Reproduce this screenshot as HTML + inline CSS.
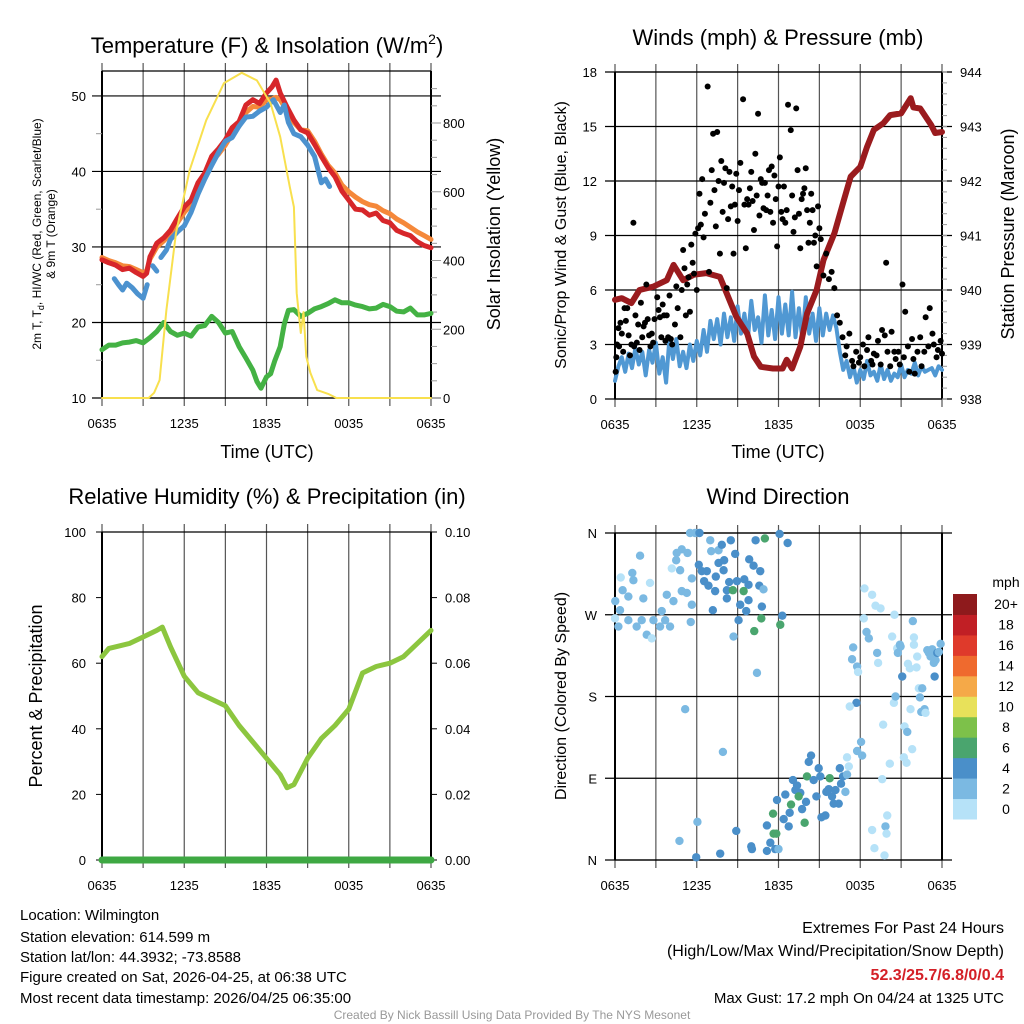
<!DOCTYPE html>
<html><head><meta charset="utf-8"><title>Mesonet Station Plots</title>
<style>
html,body{margin:0;padding:0;background:#fff;}
svg{display:block;font-family:"Liberation Sans",Arial,sans-serif;}
</style></head>
<body>
<svg id="chart" xmlns="http://www.w3.org/2000/svg" width="1024" height="1024" viewBox="0 0 1024 1024">
<rect x="0" y="0" width="1024" height="1024" fill="#fff"/>
<g id="layer"></g>
<text x="267" y="53" font-size="22" text-anchor="middle">Temperature (F) &amp; Insolation (W/m<tspan font-size="14" dy="-9">2</tspan><tspan dy="9">)</tspan></text>
<text x="778" y="45" font-size="22" text-anchor="middle">Winds (mph) &amp; Pressure (mb)</text>
<text x="267" y="504" font-size="22" text-anchor="middle">Relative Humidity (%) &amp; Precipitation (in)</text>
<text x="778" y="504" font-size="22" text-anchor="middle">Wind Direction</text>
<text x="267" y="458" font-size="18" text-anchor="middle">Time (UTC)</text>
<text x="778" y="458" font-size="18" text-anchor="middle">Time (UTC)</text>
<text transform="translate(41,234) rotate(-90)" font-size="12" text-anchor="middle">2m T, T<tspan font-size="9" dy="3">d</tspan><tspan dy="-3">, HI/WC (Red, Green, Scarlet/Blue)</tspan></text>
<text transform="translate(55,234) rotate(-90)" font-size="12" text-anchor="middle">&amp; 9m T (Orange)</text>
<text transform="translate(500,234) rotate(-90)" font-size="18" text-anchor="middle">Solar Insolation (Yellow)</text>
<text transform="translate(566,235) rotate(-90)" font-size="16" text-anchor="middle">Sonic/Prop Wind &amp; Gust (Blue, Black)</text>
<text transform="translate(1014,234) rotate(-90)" font-size="18" text-anchor="middle">Station Pressure (Maroon)</text>
<text transform="translate(42,696) rotate(-90)" font-size="18" text-anchor="middle">Percent &amp; Precipitation</text>
<text transform="translate(566,696) rotate(-90)" font-size="16" text-anchor="middle">Direction (Colored By Speed)</text>
<text x="1006" y="587" font-size="14" text-anchor="middle">mph</text>
<g font-size="15">
<text x="20" y="920">Location: Wilmington</text>
<text x="20" y="942">Station elevation: 614.599 m</text>
<text x="20" y="962">Station lat/lon: 44.3932; -73.8588</text>
<text x="20" y="982">Figure created on Sat, 2026-04-25, at 06:38 UTC</text>
<text x="20" y="1003">Most recent data timestamp: 2026/04/25 06:35:00</text>
</g>
<g font-size="16" text-anchor="end">
<text x="1004" y="933">Extremes For Past 24 Hours</text>
<text x="1004" y="956">(High/Low/Max Wind/Precipitation/Snow Depth)</text>
<text x="1004" y="980" fill="#d42027" font-weight="bold">52.3/25.7/6.8/0/0.4</text>
<text x="1004" y="1003" font-size="15">Max Gust: 17.2 mph On 04/24 at 1325 UTC</text>
</g>
<text x="512" y="1019" font-size="12" fill="#999" text-anchor="middle">Created By Nick Bassill Using Data Provided By The NYS Mesonet</text>
</svg>
<script>
// ---------- data ----------
var timeTickLabels = ["0635","1235","1835","0035","0635"];
var tempTicks = [10,20,30,40,50];
var solarTicks = [0,200,400,600,800];
var windTicks = [0,3,6,9,12,15,18];
var pressTicks = [938,939,940,941,942,943,944];
var rhTicks = [0,20,40,60,80,100];
var precipTicks = ["0.00","0.02","0.04","0.06","0.08","0.10"];
var dirTicks = [0,90,180,270,360];
var dirTickLabels = ["N","E","S","W","N"];
var speedBins = ["0","2","4","6","8","10","12","14","16","18","20+"];
var speedColors = ["#b6e2f8","#7bb9e2","#4a8fc9","#4aa56e","#7dc14a","#e8e15a","#f5a948","#ef6a2e","#df3a2b","#c11f25","#8e1a1c"];

var redTime = [0,0.5,1,1.5,2,2.5,3,3.25,3.5,4,4.5,5,5.5,6,6.5,7,7.5,8,8.5,9,9.5,10,10.5,11,11.5,12,12.4,12.7,13,13.5,14,14.5,15,15.5,16,16.5,17,17.5,18,18.5,19,19.5,20,20.5,21,21.5,22,22.5,23,23.5,24];
var redTemp = [28.3,27.9,27.6,27.0,27.2,26.6,26.1,26.5,28.7,30.5,31.2,32.2,33.8,35.3,36.2,38.5,39.8,42.0,43.0,44.2,45.8,46.6,48.8,49.5,49.0,50.4,51.2,52.1,50.4,48.5,46.8,45.5,45.1,43.6,42.0,40.5,39.3,37.4,36.2,35.0,34.9,34.2,34.5,33.5,33.2,32.2,31.8,31.5,30.7,30.2,29.9];
var orangeTemp = [28.6,28.2,27.9,27.5,27.4,27.0,26.6,26.8,28.4,30.0,30.8,31.8,33.2,34.6,35.6,37.8,39.2,41.3,42.3,43.5,45.0,46.0,47.8,48.6,48.5,49.5,49.6,49.8,49.5,48.0,46.5,45.5,45.4,44.0,42.3,40.8,39.8,38.2,37.3,36.6,36.0,35.6,35.4,34.8,34.4,33.7,33.2,32.6,32.0,31.5,31.0];
var blueTime = [0.9,1.2,1.5,1.8,2.2,2.6,3.0,3.3,null,3.7,4.0,null,4.3,4.7,5,5.5,6,6.5,7,7.5,8,8.5,9,9.5,10,10.5,11,11.5,12,12.5,13,13.3,13.6,14,14.5,15,15.5,16,16.3,16.6];
var blueTemp = [25.8,25.0,24.3,25.2,24.6,23.8,23.2,25.0,null,27.5,26.8,null,28.6,29.6,31.0,32.0,32.8,34.6,37.0,39.0,40.8,42.5,44.0,44.5,46.0,47.2,47.3,48.0,48.5,49.5,47.8,48.8,46.5,45.0,44.6,43.5,42.0,38.5,39.0,38.0];
var dewTime = [0,0.5,1,1.5,2,2.5,3,3.5,4,4.5,5,5.5,6,6.5,7,7.5,8,8.5,9,9.5,10,10.5,11,11.3,11.6,12,12.3,12.6,13,13.3,13.6,14,14.5,15,15.5,16,16.5,17,17.5,18,18.5,19,19.5,20,20.5,21,21.5,22,22.5,23,23.5,24];
var dewTemp = [16.4,17.0,17.0,17.3,17.4,17.6,17.3,18.0,18.8,20.0,18.8,18.3,18.6,18.2,19.4,19.6,20.8,20.0,18.6,18.8,16.8,15.3,13.7,12.2,11.3,12.8,13.2,14.9,16.8,19.8,21.6,21.7,20.8,21.2,21.8,22.1,22.5,23.0,22.6,22.6,22.3,22.1,21.8,21.9,22.4,22.1,21.5,21.4,21.9,21.0,21.0,21.2];
var solarTime = [0,3.4,3.8,4.2,4.7,5.4,6.4,7.6,8.9,10.2,11.3,12.3,13,13.7,14,14.2,14.5,14.7,14.9,15.2,15.7,16.5,17.1,24];
var solarValue = [0,0,15,52,256,480,663,808,916,946,924,857,760,614,556,305,189,250,120,73,23,12,0,0];

var sonicWind = [1.0,1.8,2.3,1.5,2.5,1.7,2.8,1.9,2.6,1.3,2.7,2.0,3.1,1.4,2.3,0.9,3.4,
2.2,3.3,1.8,2.6,1.7,3.0,2.1,3.2,2.4,3.8,2.6,4.3,3.3,4.4,3.0,4.7,
3.4,4.5,3.2,5.1,3.6,4.7,3.3,5.4,3.8,4.5,3.1,5.7,3.5,4.9,3.3,5.6,
3.6,5.2,3.5,5.9,3.4,5.0,3.3,5.6,3.6,4.7,3.2,5.0,3.5,4.7,3.8,4.6,
3.9,2.6,1.6,2.1,1.2,1.8,0.9,1.6,1.1,2.1,1.3,1.5,1.0,1.9,1.1,1.6,
1.0,1.4,1.2,1.9,1.2,1.6,1.4,2.0,1.3,1.8,1.5,1.6,1.7,1.3,1.8,1.6];
var gustTime = [0.05,0.1,0.15,0.25,0.3,0.4,0.5,0.6,0.7,0.8,0.9,1.0,1.1,1.2,1.35,1.4,1.5,1.6,1.7,1.8,1.9,2.0,2.1,2.2,2.3,2.4,2.5,2.6,2.7,2.8,2.9,
3.1,3.2,3.3,3.4,3.5,3.6,3.7,3.8,3.9,4.0,4.1,4.2,4.4,4.5,4.6,4.8,4.9,5.0,5.1,5.2,5.3,5.4,5.5,5.6,5.7,5.8,5.9,6.0,
6.1,6.2,6.3,6.4,6.5,6.6,6.8,6.9,7.0,7.1,7.2,7.3,7.4,7.5,7.6,7.7,7.8,7.9,8.0,8.1,8.2,8.3,8.4,8.5,8.6,8.7,8.8,8.9,9.0,9.1,9.2,9.4,9.5,9.6,9.7,9.8,9.9,10.0,10.1,10.2,10.3,10.4,10.5,10.6,10.7,10.8,10.9,11.0,11.1,11.2,11.3,11.4,11.5,11.6,11.7,11.8,11.9,12.0,12.1,12.2,12.3,12.4,12.5,12.6,12.7,12.9,13.0,13.1,13.2,13.3,13.4,13.5,13.6,13.7,13.8,13.9,14.0,14.1,14.2,14.3,14.4,14.5,14.6,14.7,14.8,14.9,15.0,
15.1,15.3,15.5,15.7,15.9,16.1,16.3,16.5,16.7,16.9,17.0,17.2,17.4,17.5,17.7,17.9,18.0,18.2,18.3,18.5,18.6,18.8,18.9,19.0,19.2,19.3,19.5,19.6,19.8,19.9,20.0,20.2,20.3,20.5,20.6,20.8,20.9,21.1,21.2,21.3,21.5,21.6,21.8,21.9,22.0,22.2,22.4,22.5,22.7,22.8,23.0,23.1,23.3,23.4,23.6,23.7,23.9,24.0];
var gustValue = [1.5,2.3,3.0,3.9,2.9,4.2,3.6,2.6,5.0,4.3,5.0,3.5,2.4,3.0,9.7,2.9,4.6,3.1,4.1,2.7,5.3,3.4,4.0,4.2,6.3,4.4,3.5,2.9,3.6,3.1,4.4,
5.6,4.9,4.5,3.4,5.2,4.6,3.2,4.6,3.4,5.7,3.3,3.0,4.1,6.2,5.0,3.4,6.0,8.2,7.2,4.6,6.3,6.7,4.8,8.5,7.5,6.9,9.1,6.0,
9.4,11.3,9.6,12.1,8.9,10.2,17.2,7.0,10.8,12.6,14.6,11.5,9.5,14.7,12.0,8.0,13.1,10.3,11.9,12.7,6.1,9.9,12.5,10.6,11.7,8.0,10.7,12.4,9.8,11.5,13.0,16.5,10.7,8.3,11.0,10.7,11.6,12.5,10.9,9.3,13.5,11.2,15.7,10.1,12.1,11.9,10.5,11.9,10.4,11.2,12.6,10.3,12.8,9.7,12.3,11.0,8.4,11.7,13.3,10.3,9.9,11.7,9.7,10.4,16.2,14.8,11.2,9.2,10.0,16.0,12.6,10.2,8.3,11.0,11.3,11.6,12.7,10.4,8.6,9.7,11.3,10.4,8.6,9.0,7.3,10.6,9.4,
8.8,6.8,8.0,6.6,7.0,6.1,4.6,4.2,3.4,2.4,2.9,3.6,2.1,1.8,2.6,2.0,2.3,3.0,1.8,2.7,3.4,2.1,1.9,2.5,2.4,3.2,1.9,3.8,3.5,7.5,2.6,1.8,3.7,2.6,2.2,2.6,1.9,6.3,2.3,4.8,2.9,1.5,3.3,2.2,1.4,2.6,3.4,1.8,2.6,4.5,2.9,5.0,3.6,3.0,2.3,2.7,3.2,2.5];
var pressTime = [0,0.5,1.2,1.8,2.8,3.8,4.3,5,5.8,6.7,7.7,8.2,8.9,9.7,10.2,10.7,11.6,12.3,12.6,13,13.6,14.1,14.8,15.3,16.1,16.8,17.3,18,18.5,19,19.7,20.2,21,21.7,21.9,22.4,23.2,23.5,24];
var pressValue = [939.82,939.85,939.76,940.0,940.06,940.18,940.46,940.18,940.28,940.31,940.24,939.94,939.51,939.2,938.78,938.59,938.56,938.56,938.72,938.56,938.96,939.57,940.0,940.55,941.04,941.65,942.08,942.26,942.63,942.94,943.06,943.21,943.24,943.52,943.35,943.33,943.03,942.88,942.9];

var rhTime = [0,0.5,1,2,3,4,4.4,5,6,7,8,9,10,11,12,13,13.5,14,15,16,17,18,19,20,21,22,23,24];
var rhValue = [62,64.5,65,66,68,70,71,65,56,51,49,47,41,36,31,26,22,23,31,37,41,46,57,59,60,62,66,70];
var precipTime = [0,24];
var precipValue = [0,0];

var dirTime = [0.42,1.27,1.35,1.84,2.57,0.56,0.98,2.08,0.02,0.37,0,0.25,0.98,1.59,1.96,2.33,2.7,2.82,3.31,3.68,4.04,3.43,3.8,4.29,4.9,5.27,4.53,4.9,5.32,4.49,4.17,4.78,5.64,5.56,5.64,5.51,5.88,5.15,4.73,6.05,5.96,
6.2,6.99,7.06,7.6,7.84,8.5,8.82,6.15,6.37,6.74,6.54,6.86,7.4,7.6,8.01,7.97,8.38,8.95,9.49,9.8,7.35,8.21,8.21,7.18,8.65,9.44,9.19,9.63,9.8,10.59,10.9,10.78,9.07,8.7,9.85,10.17,10.66,10.32,11.0,12.08,12.67,10.74,10.22,12.13,12.28,10.42,7.92,8.9,7.72,10.0,10.05,
11.15,11.64,11.84,11.4,11.15,11.76,12.0,11.6,12.38,12.75,11.89,12.5,12.92,12.82,13.24,13.6,13.48,13.06,13.36,13.73,14.02,13.92,14.09,14.22,14.39,14.58,14.78,14.95,15.07,15.15,15.44,15.51,15.69,15.76,15.93,16.05,16.42,16.18,16.5,16.59,16.74,16.91,17.03,17.16,17.03,17.77,18.14,18.06,17.72,17.23,17.48,17.4,17.77,17.84,18.31,18.26,18.46,18.63,18.87,19.12,19.49,19.24,19.31,19.68,19.61,19.98,19.85,19.93,18.87,19.04,19.78,20.17,20.47,20.59,20.51,20.34,20.71,20.91,20.76,20.96,21.08,21.25,21.45,21.69,21.81,21.2,21.4,21.86,21.94,21.94,21.5,21.64,22.18,22.13,22.3,22.55,22.38,22.48,22.72,22.79,22.92,23.04,23.28,23.16,23.4,23.53,23.65,23.77,23.9,23.46];
var dirValue = [311,316,308,335,305,297,290,288,285,275,266,257,264,257,264,248,244,264,257,264,257,274,292,285,296,294,338,342,338,330,321,319,310,262,281,360,360,166,21,42,3,
360,352,340,341,347,352,337,325,318,318,307,302,312,327,330,319,306,307,309,303,296,297,288,275,297,296,281,274,286,302,298,279,264,246,331,324,318,352,354,359,349,266,252,259,269,206,119,32,7,15,12,
38,29,29,19,10,12,12,51,45,37,66,72,61,52,77,74,70,88,82,56,64,41,92,108,115,88,70,101,92,47,49,75,78,90,70,62,62,77,101,84,92,75,94,103,113,120,115,130,173,169,234,221,213,207,299,266,251,244,292,280,277,228,217,149,89,49,37,29,33,13,5,106,173,180,270,246,233,237,228,235,202,147,141,166,122,113,107,263,245,237,216,211,224,212,189,189,179,163,166,162,231,228,232,224,217,220,228,229,238,202];
var dirSpeed = [0.5,2.5,2.5,2.5,0.5,2.5,2.5,2.5,2.5,2.5,0.5,2.5,2.5,2.5,2.5,2.5,0.5,2.5,2.5,2.5,2.5,2.5,2.5,2.5,2.5,2.5,2.5,2.5,2.5,2.5,0.5,2.5,2.5,2.5,2.5,2.5,2.5,2.5,2.5,2.5,4.5,
4.5,2.5,2.5,2.5,4.5,4.5,4.5,4.5,4.5,4.5,4.5,4.5,4.5,4.5,4.5,4.5,4.5,4.5,4.5,4.5,4.5,4.5,4.5,4.5,6.5,6.5,4.5,4.5,4.5,4.5,2.5,4.5,4.5,2.5,4.5,4.5,4.5,4.5,6.5,4.5,4.5,6.5,6.5,6.5,4.5,2.5,2.5,4.5,4.5,4.5,4.5,
4.5,6.5,6.5,4.5,4.5,4.5,2.5,6.5,4.5,4.5,4.5,4.5,6.5,4.5,4.5,4.5,6.5,4.5,4.5,4.5,4.5,6.5,6.5,4.5,4.5,4.5,4.5,4.5,4.5,4.5,4.5,4.5,4.5,6.5,4.5,4.5,4.5,4.5,4.5,4.5,4.5,2.5,2.5,0.5,0.5,2.5,2.5,2.5,4.5,0.5,2.5,2.5,2.5,0.5,0.5,0.5,2.5,2.5,0.5,0.5,0.5,2.5,0.5,0.5,0.5,0.5,2.5,0.5,0.5,0.5,0.5,0.5,0.5,2.5,0.5,0.5,0.5,2.5,2.5,2.5,4.5,0.5,2.5,0.5,0.5,0.5,0.5,2.5,0.5,0.5,0.5,0.5,0.5,0.5,0.5,2.5,2.5,2.5,2.5,0.5,2.5,2.5,2.5,2.5,2.5,2.5,4.5,2.5,2.5,4.5,2.5];

// ---------- helpers ----------
var NS = "http://www.w3.org/2000/svg";
var layer = document.getElementById("layer");
function mk(tag, attrs, parent) {
  var e = document.createElementNS(NS, tag);
  for (var k in attrs) e.setAttribute(k, attrs[k]);
  (parent || layer).appendChild(e);
  return e;
}
function linScale(d0, d1, r0, r1) { return function (v) { return r0 + (v - d0) / (d1 - d0) * (r1 - r0); }; }

var P1 = {x0: 102, x1: 431, y0: 71, y1: 398};
var P2 = {x0: 615, x1: 942, y0: 72, y1: 399};
var P3 = {x0: 102, x1: 431, y0: 532, y1: 860};
var P4 = {x0: 615, x1: 942, y0: 533, y1: 860};

var x1s = linScale(0, 24, P1.x0, P1.x1), x2s = linScale(0, 24, P2.x0, P2.x1);
var x3s = linScale(0, 24, P3.x0, P3.x1), x4s = linScale(0, 24, P4.x0, P4.x1);
var tempY = linScale(10, 53.3, P1.y1, P1.y0);
var solarY = linScale(0, 800, P1.y1, 123);
var windY = linScale(0, 18, P2.y1, P2.y0);
var pressY = linScale(938, 944, P2.y1, P2.y0);
var rhY = linScale(0, 100, P3.y1, P3.y0);
var precipY = linScale(0, 0.1, P3.y1, P3.y0);
var dirY = linScale(0, 360, P4.y1, P4.y0);

function pathFrom(ts, vs, xs, ys) {
  var d = "", pen = false;
  for (var i = 0; i < ts.length; i++) {
    if (ts[i] === null || vs[i] === null) { pen = false; continue; }
    d += (pen ? "L" : "M") + xs(ts[i]).toFixed(1) + "," + ys(vs[i]).toFixed(1);
    pen = true;
  }
  return d;
}
function series(ts, vs, xs, ys, color, w, name) {
  var p = mk("path", {d: pathFrom(ts, vs, xs, ys), fill: "none", stroke: color, "stroke-width": w, "stroke-linejoin": "round", "stroke-linecap": "round"});
  
  
  return p;
}
function label(x, y, txt, anchor, size, name) {
  var t = mk("text", {x: x, y: y, "font-size": size || 13, "text-anchor": anchor || "middle"});
  t.textContent = txt;
  
  
  return t;
}
function gline(x1, y1, x2, y2, color, w, name) {
  var l = mk("line", {x1: x1, y1: y1, x2: x2, y2: y2, stroke: color, "stroke-width": w});
  
  
  return l;
}
function frame(P, xs, name) {
  for (var h = 0; h <= 24; h += 3) gline(xs(h), P.y0 - 8, xs(h), P.y1 + 8, "#555", 1.2, name + "-vgrid");
  for (var i = 0; i < 5; i++) label(xs(i * 6), P.y1 + 30, timeTickLabels[i], "middle", 13, name + "-x-tick-label");
  gline(P.x0, P.y0, P.x0, P.y1, "#000", 2, name + "-left-axis");
  gline(P.x1, P.y0, P.x1, P.y1, "#000", 2, name + "-right-axis");
  gline(P.x0, P.y1, P.x1, P.y1, "#000", 1.2, name + "-bottom-axis");
  gline(P.x0, P.y0, P.x1, P.y0, "#000", 1.2, name + "-top-axis");
}

// ---------- panel 1: temperature ----------
frame(P1, x1s, "temp");
tempTicks.forEach(function (v) {
  gline(P1.x0 - 10, tempY(v), P1.x1 + 10, tempY(v), "#000", 1.2, "temp-hgrid");
  label(P1.x0 - 16, tempY(v) + 5, String(v), "end", 13, "temp-y-tick-label");
});
[15, 25, 35, 45].forEach(function (v) { gline(P1.x0 - 6, tempY(v), P1.x0, tempY(v), "#999", 1, "temp-minor-tick"); });
for (var s = 0; s <= 900; s += 50) gline(P1.x1, solarY(s), P1.x1 + (s % 200 === 0 ? 10 : 6), solarY(s), "#999", 1, "solar-tick");
solarTicks.forEach(function (v) { label(P1.x1 + 12, solarY(v) + 5, String(v), "start", 13, "solar-y-tick-label"); });
series(dewTime, dewTemp, x1s, tempY, "#44b244", 5, "dewpoint-line");
series(redTime, orangeTemp, x1s, tempY, "#f5883a", 5, "temp-9m-line");
series(redTime, redTemp, x1s, tempY, "#d7262a", 5, "temp-2m-line");
series(blueTime, blueTemp, x1s, tempY, "#4c92cf", 5, "heat-index-windchill-line");
series(solarTime, solarValue, x1s, solarY, "#f8e04e", 2, "solar-insolation-line");

// ---------- panel 2: winds ----------
frame(P2, x2s, "wind");
windTicks.forEach(function (v) {
  gline(P2.x0 - 10, windY(v), P2.x1 + 10, windY(v), "#000", 1.2, "wind-hgrid");
  label(P2.x0 - 18, windY(v) + 5, String(v), "end", 13, "wind-y-tick-label");
});
for (var pr = 938; pr <= 944.001; pr += 0.2) gline(P2.x1, pressY(pr), P2.x1 + 5, pressY(pr), "#999", 1, "pressure-minor-tick");
pressTicks.forEach(function (v) { label(P2.x1 + 18, pressY(v) + 5, String(v), "start", 13, "pressure-y-tick-label"); });
var sonicTime = sonicWind.map(function (v, i) { return i * 0.25; });
series(sonicTime, sonicWind, x2s, windY, "#5098d3", 4, "sonic-wind-line");
series(pressTime, pressValue, x2s, pressY, "#9a1b1e", 6, "pressure-line");
gustTime.forEach(function (t, i) {
  var c = mk("circle", {cx: x2s(t), cy: windY(gustValue[i]), r: 3, fill: "#000"});
  
  
});

// ---------- panel 3: humidity ----------
frame(P3, x3s, "rh");
rhTicks.forEach(function (v, i) {
  gline(P3.x0 - 6, rhY(v), P3.x0, rhY(v), "#000", 1, "rh-tick");
  label(P3.x0 - 16, rhY(v) + 5, String(v), "end", 13, "rh-y-tick-label");
  gline(P3.x1, rhY(v), P3.x1 + 6, rhY(v), "#000", 1, "precip-tick");
  label(P3.x1 + 14, rhY(v) + 5, precipTicks[i], "start", 13, "precip-y-tick-label");
});
series(rhTime, rhValue, x3s, rhY, "#8cc63f", 5, "humidity-line");
series(precipTime, precipValue, x3s, precipY, "#3ea843", 7, "precipitation-line");

// ---------- panel 4: wind direction ----------
frame(P4, x4s, "dir");
dirTicks.forEach(function (v, i) {
  gline(P4.x0 - 10, dirY(v), P4.x1 + 10, dirY(v), "#000", 1.2, "dir-hgrid");
  label(P4.x0 - 18, dirY(v) + 5, dirTickLabels[i], "end", 13, "dir-y-tick-label");
});
function speedColor(v) { var k = Math.min(10, Math.floor(v / 2)); return speedColors[k]; }
dirTime.forEach(function (t, i) {
  var c = mk("circle", {cx: x4s(t), cy: dirY(dirValue[i]), r: 4.2, fill: speedColor(dirSpeed[i])});
  
  
});
// colorbar
var cbTop = 594, cbBot = 819, cbH = (cbBot - cbTop) / speedBins.length;
speedBins.forEach(function (b, i) {
  var y = cbBot - (i + 1) * cbH;
  var r = mk("rect", {x: 953, y: y, width: 24, height: cbH + 0.5, fill: speedColors[i]});
  
  
  label(1006, y + cbH / 2 + 5, b, "middle", 14, "colorbar-label");
});
</script>
</body></html>
